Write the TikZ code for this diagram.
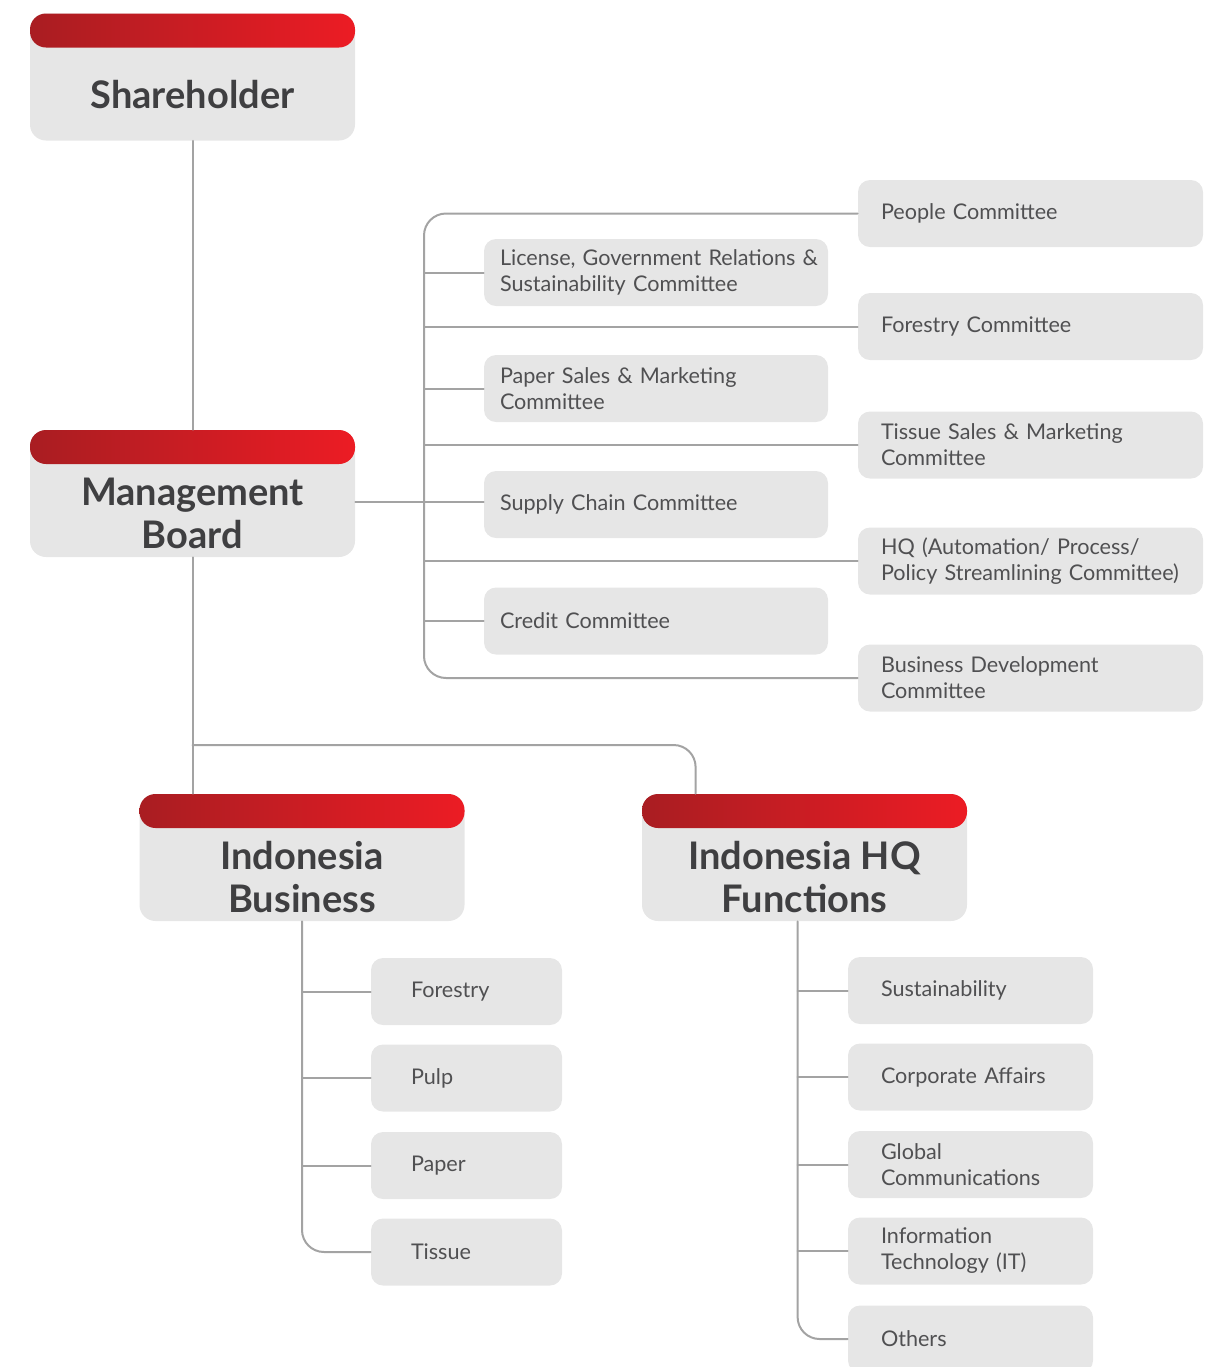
\documentclass[tikz,border=0pt]{standalone}
\usepackage{fontspec}
\setmainfont{Lato}
\definecolor{boxgray}{HTML}{E6E6E6}
\definecolor{linegray}{HTML}{A3A3A3}
\definecolor{reddark}{HTML}{A91D22}
\definecolor{redlight}{HTML}{EC1C24}
\definecolor{txtgray}{HTML}{505052}
\definecolor{titlegray}{HTML}{3F3F41}
\begin{document}
\begin{tikzpicture}[x=0.5pt,y=-0.5pt, line join=round, line cap=round]
	\tikzset{conn/.style={draw=linegray, line width=1pt},
		headbox/.style={fill=boxgray, rounded corners=8pt, minimum width=162.5pt, minimum height=63.5pt, inner sep=0pt,
			path picture={\shade[left color=reddark, right color=redlight] (path picture bounding box.north west) rectangle ([yshift=-17pt]path picture bounding box.north east);}},
		title/.style={font=\fontsize{19}{21.5}\selectfont\bfseries, text=titlegray, align=center},
		com/.style={fill=boxgray, rounded corners=6pt, minimum height=33.5pt, inner ysep=0pt, align=left, font=\fontsize{10.8}{13}\selectfont, text=txtgray},
		lcom/.style={com, text width=156pt, inner xsep=8pt},
		rcom/.style={com, text width=149.5pt, inner xsep=11.5pt},
		bcom/.style={com, text width=55.5pt, inner xsep=20pt},
		fcom/.style={com, text width=89.5pt, inner xsep=16.5pt}}
	\useasboundingbox (0,0) rectangle (1211,1367);
	% main boxes
	\node[headbox] (shbox) at (192.5,77) {};
	\node[title] (sh) at (192.5,95) {Shareholder};
	\node[headbox] (mbbox) at (192.5,493.5) {};
	\node[title] (mb) at (192.5,513) {Management\\Board};
	\node[headbox] (ibbox) at (302,857.5) {};
	\node[title] (ib) at (302,877) {Indonesia\\Business};
	\node[headbox] (hqbox) at (804.5,857.5) {};
	\node[title] (hq) at (804.5,877) {Indonesia HQ\\Functions};
	% committees
	\node[rcom] (people) at (1030.5,213.5) {People Committee};
	\node[lcom] (lic) at (656,272.5) {\mbox{License, Government Relations \&}\\Sustainability Committee};
	\node[rcom] (forcom) at (1030.5,326.5) {Forestry Committee};
	\node[lcom] (papercom) at (656,388.5) {Paper Sales \& Marketing\\Committee};
	\node[rcom] (tissuecom) at (1030.5,445) {Tissue Sales \& Marketing\\Committee};
	\node[lcom] (supply) at (656,504.5) {Supply Chain Committee};
	\node[rcom] (hqcom) at (1030.5,561) {HQ (Automation/ Process/\\Policy Streamlining Committee)};
	\node[lcom] (credit) at (656,621) {Credit Committee};
	\node[rcom] (bdcom) at (1030.5,678) {Business Development\\Committee};
	% business units and functions
	\node[bcom] (forestry) at (466.5,991.5) {Forestry};
	\node[bcom] (pulp) at (466.5,1078) {Pulp};
	\node[bcom] (paper) at (466.5,1165.5) {Paper};
	\node[bcom] (tissue) at (466.5,1252) {Tissue};
	\node[fcom] (sust) at (970.5,990.5) {Sustainability};
	\node[fcom] (corp) at (970.5,1077) {Corporate Affairs};
	\node[fcom] (glob) at (970.5,1164.5) {Global\\Communications};
	\node[fcom] (itf) at (970.5,1251) {Information\\Technology (IT)};
	\node[fcom] (others) at (970.5,1339) {Others};
	% connectors
	\coordinate (bus) at (424,0);
	\coordinate (split) at (192.5,745);
	\coordinate (hqin) at ([xshift=27pt]hqbox.north west);
	\coordinate (hqout) at ([xshift=78pt]hqbox.south west);
	\draw[conn] (shbox.south) -- (mbbox.north);
	\draw[conn] ([yshift=1.5pt]mbbox.east |- supply.west) -- ([yshift=1.5pt]supply.west);
	\draw[conn, rounded corners=11pt] (people.west) -- (people.west -| bus) -- (bdcom.west -| bus) -- (bdcom.west);
	\foreach \n in {lic,forcom,papercom,tissuecom,hqcom,credit}
		\draw[conn] (\n.west -| bus) -- (\n.west);
	\draw[conn] (mbbox.south) -- (mbbox.south |- ibbox.north);
	\draw[conn, rounded corners=11pt] (split) -- (split -| hqin) -- (hqin);
	\draw[conn, rounded corners=11pt] (ibbox.south) -- (ibbox.south |- tissue.west) -- (tissue.west);
	\foreach \n in {forestry,pulp,paper}
		\draw[conn] (ibbox.south |- \n.west) -- (\n.west);
	\draw[conn, rounded corners=11pt] (hqout) -- (hqout |- others.west) -- (others.west);
	\foreach \n in {sust,corp,glob,itf}
		\draw[conn] (hqout |- \n.west) -- (\n.west);
\end{tikzpicture}
\end{document}
